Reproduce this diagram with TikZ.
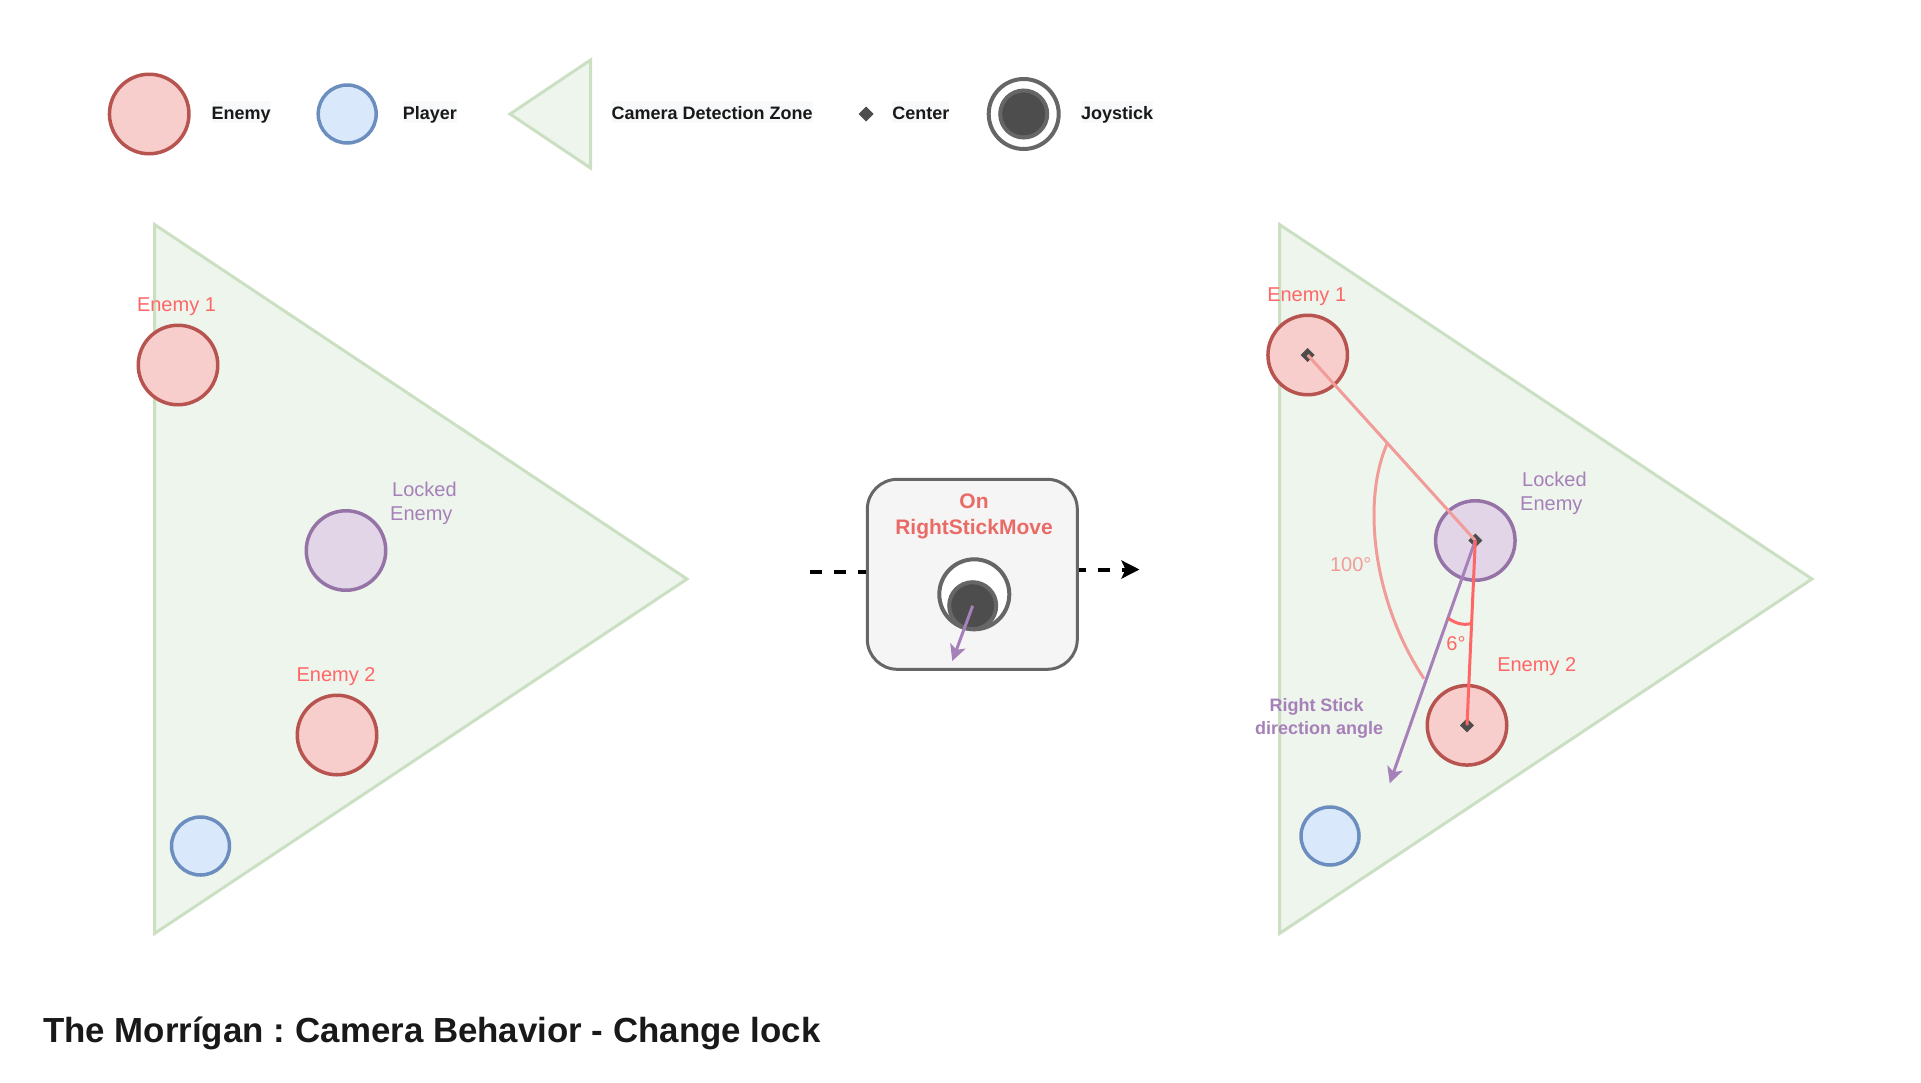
\documentclass[tikz,border=0pt]{standalone}
\usepackage{fontspec}
\setmainfont{Liberation Sans}
\usepackage{xcolor}
\usetikzlibrary{shapes.geometric, arrows.meta, positioning}

\definecolor{enemyfill}{HTML}{F8CECC}
\definecolor{enemyline}{HTML}{B85450}
\definecolor{playerfill}{HTML}{DAE8FC}
\definecolor{playerline}{HTML}{6C8EBF}
\definecolor{lockedfill}{HTML}{E1D5E7}
\definecolor{lockedline}{HTML}{9673A6}
\definecolor{lockedtext}{HTML}{A680B8}
\definecolor{zonefill}{HTML}{EEF5ED}
\definecolor{zoneline}{HTML}{CBE0C3}
\definecolor{redtext}{HTML}{FF6666}
\definecolor{palered}{HTML}{F19C99}
\definecolor{boxred}{HTML}{EA6B66}
\definecolor{stickdark}{HTML}{4D4D4D}
\definecolor{stickline}{HTML}{666666}
\definecolor{keyback}{HTML}{F8F9FA}

\begin{document}
\begin{tikzpicture}[x=1pt, y=-1pt,
        enemy/.style={circle, draw=enemyline, fill=enemyfill, line width=3.5pt, minimum size=79.5pt, inner sep=0pt},
        player/.style={circle, draw=playerline, fill=playerfill, line width=3.5pt, minimum size=58pt, inner sep=0pt},
        lockon/.style={circle, draw=lockedline, fill=lockedfill, line width=3.5pt, minimum size=79.5pt, inner sep=0pt},
        zone/.style={draw=zoneline, fill=zonefill, line width=3pt},
        centermark/.style={diamond, fill=stickdark, minimum width=14pt, minimum height=14pt, inner sep=0pt, outer sep=0pt},
        stickouter/.style={circle, draw=stickline, fill=white, line width=4pt, minimum size=70pt, inner sep=0pt},
        stickinner/.style={circle, draw=stickline, fill=stickdark, line width=4pt, minimum size=47pt, inner sep=0pt},
        keylabel/.style={fill=keyback, yshift=2pt, inner xsep=0pt, inner ysep=0pt, text height=18.5pt, text depth=3.2pt, font=\fontsize{18}{22}\selectfont\bfseries, text=black!90},
        redlabel/.style={text=redtext, inner sep=0pt, font=\fontsize{20}{24}\selectfont},
        purplelabel/.style={text=lockedtext, inner sep=0pt, align=left, font=\fontsize{20}{24}\selectfont},
        dashline/.style={line width=4pt, black, dash pattern=on 12pt off 12pt},
        purplearrow/.style={line width=3pt, lockedtext, -{Stealth[length=16pt, width=16pt, inset=4pt]}}]
        \useasboundingbox (0,0) rectangle (1921,1082);

        \node (keyenemy) [enemy] at (149.2,114) {};
        \node (keyenemytext) [keylabel, right=20.8pt of keyenemy] {Enemy};
        \node (keyplayer) [player] at (347.2,114) {};
        \node (keyplayertext) [keylabel, right=24.6pt of keyplayer] {Player};
        \draw [zone] (590.5,60) -- (510,114) -- (590.5,168) -- cycle;
        \node (keyzonetext) [keylabel, anchor=west] at (611.5,114) {Camera Detection Zone};
        \node (keycenter) [centermark, minimum width=15pt, minimum height=15pt] at (866,114) {};
        \node (keycentertext) [keylabel, right=18.7pt of keycenter] {Center};
        \node (keystickouter) [stickouter] at (1023.7,114) {};
        \node (keystickinner) [stickinner] at (keystickouter) {};
        \node (keysticktext) [keylabel, right=20.3pt of keystickouter] {Joystick};

        \draw [zone] (154.5,224.5) -- (687,579) -- (154.5,933.5) -- cycle;
        \node (enemy1a) [enemy] at (178,365) {};
        \node (locked1a) [lockon] at (346,550.5) {};
        \node (enemy2a) [enemy] at (337,735) {};
        \node (player1a) [player] at (200.5,846) {};
        \node (enemy1atext) [redlabel] at (176.5,307) {Enemy 1};
        \node (enemy2atext) [redlabel] at (336,677) {Enemy 2};
        \node (lockedatext) [purplelabel, anchor=west] at (390,503) {\hspace*{2pt}Locked\\Enemy};

        \coordinate (dashin) at (809.5,572);
        \coordinate (dashout) at (1139.5,569.5);
        \node (stickbox) [rectangle, rounded corners=30pt, draw=stickline, fill=black!4, line width=3pt, minimum width=210pt, minimum height=190pt] at (972.3,574.3) {};
        \draw [dashline] (dashin) -- (dashin -| stickbox.west);
        \draw [dashline, dash phase=5pt, -{Stealth[length=18pt, width=18pt, inset=4pt]}] (dashout -| stickbox.east) -- (dashout);
        \node (boxtext) [inner sep=0pt, align=center, text=boxred, font=\fontsize{21}{26}\selectfont\bfseries] at (974,516.2) {On\\RightStickMove};
        \node (stickouterbox) [stickouter] at (974.3,594.3) {};
        \node (stickinnerbox) [stickinner] at (972.7,605.7) {};
        \coordinate (stickend) at (952.3,661);
        \draw [purplearrow] (stickinnerbox.center) -- (stickend);

        \draw [zone] (1279.5,224.5) -- (1812,579) -- (1279.5,933.5) -- cycle;
        \node (enemy1b) [enemy] at (1307.7,355) {};
        \node (locked1b) [lockon] at (1475.3,540.5) {};
        \node (enemy2b) [enemy] at (1467,725.3) {};
        \node (player1b) [player] at (1330,836) {};
        \node (enemy1btext) [redlabel] at (1306.7,297) {Enemy 1};
        \node (enemy2btext) [redlabel] at (1536.7,667) {Enemy 2};
        \node (lockedbtext) [purplelabel, anchor=west] at (1520,493) {\hspace*{2pt}Locked\\Enemy};
        \node (center1) [centermark] at (enemy1b) {};
        \node (center2) [centermark] at (locked1b) {};
        \node (center3) [centermark] at (enemy2b) {};

        \coordinate (anglestart) at (1387.3,443.3);
        \coordinate (angleend) at (1424,678.7);
        \coordinate (smallstart) at (1448.3,618.3);
        \coordinate (smallend) at (1471.7,623.3);
        \coordinate (stickdir) at (1389.7,783.3);
        \draw [line width=3pt, palered] (center1.center) -- (center2.center);
        \draw [line width=3pt, palered] (anglestart) .. controls (1362,500) and (1372,600) .. (angleend);
        \draw [purplearrow] (center2.center) -- (stickdir);
        \draw [line width=3pt, redtext] (center2.center) -- (center3.center);
        \draw [line width=3pt, redtext] (smallstart) .. controls (1455,623) and (1463,626) .. (smallend);
        \node (bigangle) [inner sep=0pt, text=palered, font=\fontsize{20}{24}\selectfont] at (1350.7,565) {100°};
        \node (smallangle) [redlabel] at (1456,644) {6°};
        \node (sticktext) [inner sep=0pt, align=center, text=lockedtext, font=\fontsize{18}{22.5}\selectfont\bfseries] at (1319,718.5) {Right Stick\hspace*{5pt}\\direction angle};

        \node (title) [anchor=west, inner sep=0pt, text=black!90, font=\fontsize{34.85}{42}\selectfont\bfseries] at (43,1033.5) {The Morrígan :\kern-2.5pt{} Camera Behavior - Change lock};
\end{tikzpicture}
\end{document}
